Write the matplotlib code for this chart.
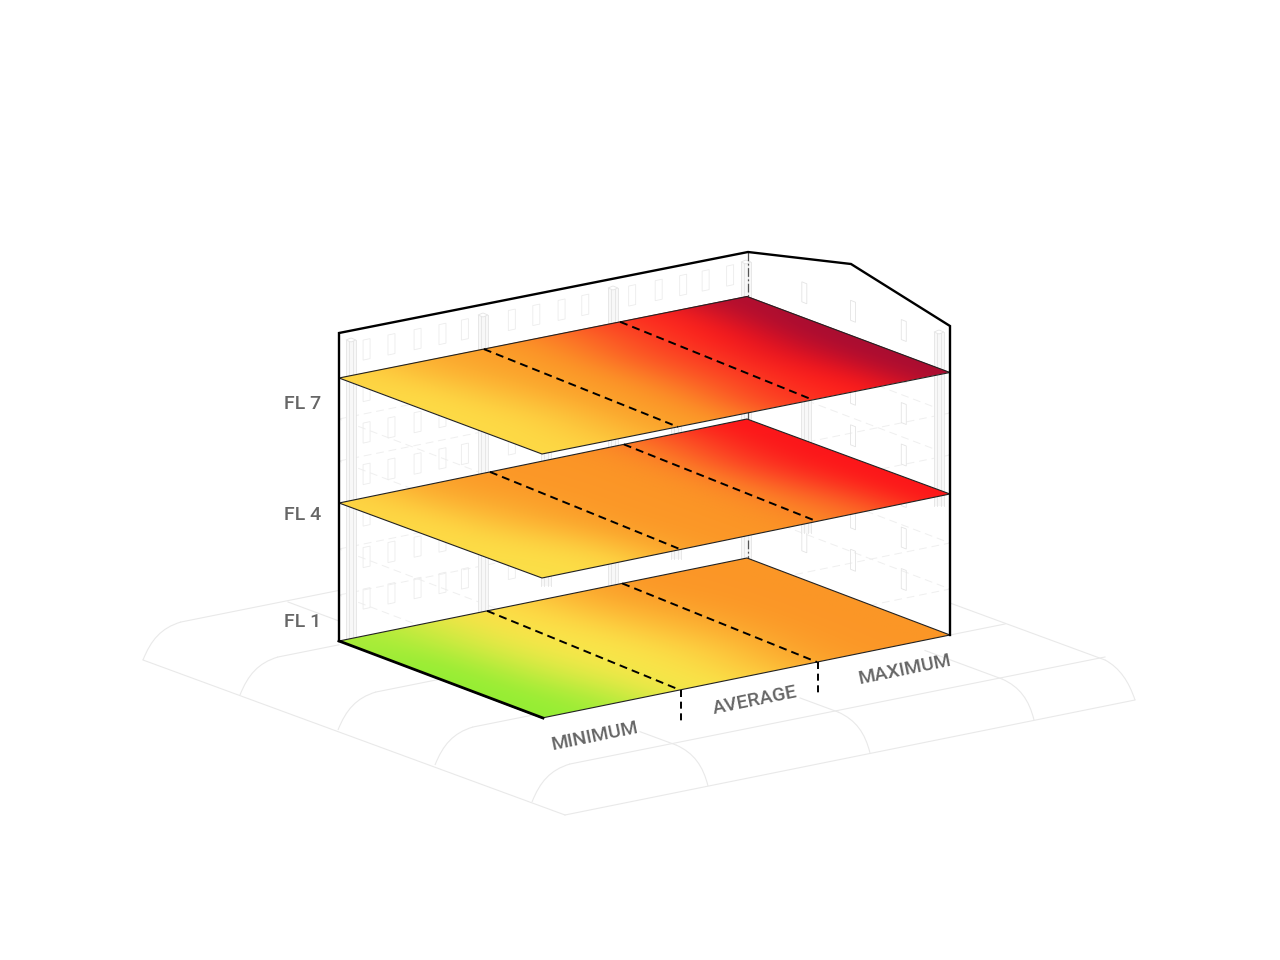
import numpy as np
import matplotlib
matplotlib.use("Agg")
import matplotlib.pyplot as plt
from matplotlib.colors import LinearSegmentedColormap
from matplotlib.path import Path
from matplotlib.patches import PathPatch, Polygon
from matplotlib.transforms import Affine2D

plt.rcParams["font.family"] = ["Roboto", "DejaVu Sans"]

# heat values per floor, rows run back edge -> front edge, columns run low -> high end
floor_names = ["FL 1", "FL 4", "FL 7"]
floor_base = [641, 503, 378]
floor_rise = [-83, -84, -81.5]
floor_run = [77, 75, 76]
label_y = [622, 515, 404]
heat_fl1 = [[6, 15, 27, 32, 42, 49, 50, 50],
            [3, 16, 26, 30, 40, 47, 50, 50],
            [2, 15, 25, 28, 38, 46, 50, 50],
            [2, 14, 24, 28, 36, 46, 50, 50],
            [2, 10, 24, 28, 38, 47, 50, 50]]
heat_fl4 = [[33, 44, 49, 50, 50, 52, 60, 75],
            [32, 42, 48, 50, 50, 52, 62, 76],
            [31, 40, 48, 50, 50, 52, 62, 75],
            [30, 36, 47, 50, 50, 52, 60, 75],
            [29, 33, 46, 50, 50, 52, 58, 75]]
heat_fl7 = [[33, 42, 47, 50, 56, 64, 72, 98],
            [31, 40, 47, 50, 58, 65, 75, 100],
            [31, 38, 47, 50, 58, 66, 80, 100],
            [31, 37, 47, 50, 58, 67, 78, 100],
            [32, 38, 47, 50, 60, 68, 74, 100]]
floor_heat = [heat_fl1, heat_fl4, heat_fl7]

# dashed zone dividers per floor: (position on back edge, position on front edge)
zone_fl1 = [(0.363, 0.338), (0.694, 0.674)]
zone_fl4 = [(0.370, 0.340), (0.698, 0.674)]
zone_fl7 = [(0.355, 0.333), (0.689, 0.664)]
floor_zones = [zone_fl1, zone_fl4, zone_fl7]

zone_names = ["MINIMUM", "AVERAGE", "MAXIMUM"]
zone_label_pos = [(595, 736), (755, 701), (905, 670)]

# ghost windows and columns of the building
back_windows = [0.059, 0.12, 0.184, 0.245, 0.30, 0.415, 0.475, 0.537, 0.595, 0.71, 0.775, 0.835, 0.89, 0.95]
side_windows = [0.27, 0.51, 0.76]
window_rows = [0, 1, 2, 3, 4, 5, 6]
back_columns = [(346, 340), (478, 315), (608, 288), (741, 262)]
front_columns = [(541, 440), (671, 420), (801, 395), (934, 332)]
ghost_levels = [46, 92, 180, 222]

# ground sheet stops
left_stops = [(143, 660), (240, 695), (338, 730), (435, 765), (532, 802)]
left_ends = [339, 339, 450, 543, 1105]
base_stops = [(708, 786), (870, 753), (1034, 720)]
depth_ends = [640, 800, 925]

heat_cmap = LinearSegmentedColormap.from_list(
    "heat",
    [(0.0, "#8cee32"), (0.25, "#f8e84b"), (0.32, "#fed945"), (0.5, "#fb9827"),
     (0.62, "#fb4025"), (0.75, "#fe1519"), (1.0, "#a80d32")],
)

UX, VX = 408, 203
LEFT_X = 339
GHOST = "#e9e9e9"
TEXT = "#666666"


def iso(u, v, base, rise=-83, run=77):
    return LEFT_X + UX * u + VX * v, base + rise * u + run * v


def curve(ax, start, c1, c2, end):
    p = Path([start, c1, c2, end], [Path.MOVETO, Path.CURVE4, Path.CURVE4, Path.CURVE4])
    ax.add_patch(PathPatch(p, fc="none", ec=GHOST, lw=0.8, zorder=1))


def draw_ground(ax):
    # vault curves coming off the left edge, then running right
    for (x, y), end_x in zip(left_stops, left_ends):
        top = (x + 38, y - 38)
        curve(ax, (x, y), (x + 8, y - 20), (x + 18, y - 32), top)
        ax.plot([top[0], end_x], [top[1], top[1] - 0.2 * (end_x - top[0])], color=GHOST, lw=0.8, zorder=1)
    # far right end of front vault
    curve(ax, (1135, 700), (1129, 682), (1120, 668), (1105, 660))
    ax.plot([143, 565], [660, 815], color=GHOST, lw=0.8, zorder=1)
    ax.plot([565, 1135], [815, 700], color=GHOST, lw=0.8, zorder=1)
    ax.plot([1105, 950], [660, 603], color=GHOST, lw=0.8, zorder=1)
    ax.plot([950, 1005], [635, 624], color=GHOST, lw=0.8, zorder=1)
    ax.plot([288, 339], [602, 621], color=GHOST, lw=0.8, zorder=1)
    # depth curves off the front edge
    for (x, y), end_x in zip(base_stops, depth_ends):
        top = (x - 32, y - 41)
        curve(ax, (x, y), (x - 5, y - 20), (x - 14, y - 33), top)
        ax.plot([top[0], end_x], [top[1], top[1] - 0.37 * (top[0] - end_x)], color=GHOST, lw=0.8, zorder=1)


def draw_ghost_building(ax):
    for z in ghost_levels:
        base = 641 - z
        corners = [iso(0, 0, base), iso(1, 0, base), iso(1, 1, base), iso(0, 1, base), iso(0, 0, base)]
        xs, ys = zip(*corners)
        ax.plot(xs, ys, color="#efefef", lw=0.7, ls=(0, (8, 5)), zorder=1.5)
    for row in window_rows:
        for u in back_windows:
            x0 = LEFT_X + UX * u
            y0 = 345 - 83 * u + 41.5 * row
            ax.add_patch(Polygon([(x0, y0), (x0 + 7, y0 - 1.5), (x0 + 7, y0 + 18.5), (x0, y0 + 20)],
                                 fc="none", ec="#ececec", lw=0.6, zorder=2))
        for v in side_windows:
            x0 = 747 + VX * v
            y0 = 261 + 77 * v + 41.5 * row
            ax.add_patch(Polygon([(x0, y0), (x0 + 5, y0 + 2), (x0 + 5, y0 + 22), (x0, y0 + 20)],
                                 fc="none", ec="#e4e4e4", lw=0.6, zorder=2))
    for group, lift in ((back_columns, 0), (front_columns, 14)):
        for x, top in group:
            foot = 641 - 83 * (x - LEFT_X) / UX - lift
            ax.fill_between([x, x + 10], top, foot, color="#f8f8f8", lw=0, zorder=2.1)
            for dx in (0, 3, 7, 10):
                ax.plot([x + dx, x + dx], [top, foot], color="#e4e4e4", lw=0.6, zorder=2.2)
            ax.add_patch(Polygon([(x, top), (x + 5, top - 2), (x + 10, top), (x + 5, top + 2)],
                                 fc="white", ec="#e4e4e4", lw=0.6, zorder=2.3))
    # dashed post at the far corner
    ax.plot([748, 748], [252, 297], color="#555555", lw=0.9, ls=(0, (7, 2, 1.5, 2)), zorder=3)
    ax.plot([748, 748], [412, 422], color="#555555", lw=0.9, zorder=3)
    ax.plot([748, 748], [540, 560], color="#555555", lw=0.9, ls=(0, (7, 2, 1.5, 2)), zorder=3)


def draw_floor(ax, base, rise, run, heat, zones):
    plane = Affine2D.from_values(UX, rise, VX, run, LEFT_X, base)
    ax.imshow(np.array(heat, dtype=float), cmap=heat_cmap, vmin=0, vmax=100, origin="lower",
              extent=(0, 1, 0, 1), interpolation="bicubic", aspect="auto",
              transform=plane + ax.transData, zorder=5)
    corners = [iso(u, v, base, rise, run) for u, v in ((0, 0), (1, 0), (1, 1), (0, 1))]
    ax.add_patch(Polygon(corners, closed=True, fc="none", ec="#222222", lw=0.8, zorder=6))
    for back, front in zones:
        x0, y0 = iso(back, 0, base, rise, run)
        x1, y1 = iso(front, 1, base, rise, run)
        ax.plot([x0, x1], [y0, y1], color="black", lw=1.4, ls=(0, (4.1, 2.6)), zorder=7)


fig = plt.figure(figsize=(12.8, 9.6), dpi=100, facecolor="white")
ax = fig.add_axes([0, 0, 1, 1])

draw_ground(ax)
draw_ghost_building(ax)
for base, rise, run, heat, zones in zip(floor_base, floor_rise, floor_run, floor_heat, floor_zones):
    draw_floor(ax, base, rise, run, heat, zones)

# building outline
ax.plot([339, 339, 748, 851, 950, 950], [641, 333, 252, 264, 326, 635], color="black", lw=1.7,
        solid_joinstyle="miter", zorder=8)
ax.plot([339, 543], [641, 718], color="black", lw=2.0, zorder=8)

# zone ticks below ground floor
for back, front in floor_zones[0]:
    x, y = iso(front, 1, floor_base[0])
    ax.plot([x + 1, x + 1], [y, y + 33], color="black", lw=1.4, ls=(0, (3.6, 2.4)), zorder=7)

for name, y in zip(floor_names, label_y):
    ax.text(303, y, name, color=TEXT, fontsize=14, ha="center", va="center", fontweight="medium")
for name, (x, y) in zip(zone_names, zone_label_pos):
    ax.text(x, y, name, color=TEXT, fontsize=14, rotation=11.5, ha="center", va="center",
            rotation_mode="anchor", fontweight="medium")

ax.set_xlim(0, 1280)
ax.set_ylim(960, 0)
ax.axis("off")
fig.savefig("out.png", dpi=100)
